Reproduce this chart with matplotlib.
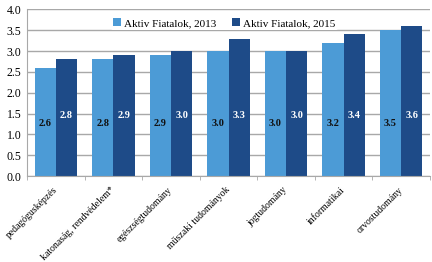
import numpy as np
import matplotlib.pyplot as plt
import matplotlib.transforms as mtransforms

categories = ['pedagógusképzés', 'katonaság, rendvédelem*', 'egészségtudomány',
              'műszaki tudományok', 'jogtudomány', 'informatikai', 'orvostudomány']
vals_2013 = [2.6, 2.8, 2.9, 3.0, 3.0, 3.2, 3.5]
vals_2015 = [2.8, 2.9, 3.0, 3.3, 3.0, 3.4, 3.6]
labels_2013 = ['2.6', '2.8', '2.9', '3.0', '3.0', '3.2', '3.5']
labels_2015 = ['2.8', '2.9', '3.0', '3.3', '3.0', '3.4', '3.6']

plt.rcParams['font.family'] = ['Liberation Serif', 'DejaVu Serif']

fig = plt.figure(figsize=(4.32, 2.62), dpi=100)
ax = fig.add_axes([0.063, 0.328, 0.932, 0.636])

x = np.arange(len(categories))
w = 0.37
light = '#4c9bd6'
dark = '#1e4b88'
ax.bar(x - w / 2, vals_2013, w, color=light, label='Aktiv Fiatalok, 2013', zorder=2)
ax.bar(x + w / 2, vals_2015, w, color=dark, label='Aktiv Fiatalok, 2015', zorder=2)

for i in range(len(categories)):
    ax.text(x[i] - w / 2, 1.25, labels_2013[i], ha='center', va='center',
            fontsize=7.5, fontweight='bold', color='#111111', zorder=3)
    ax.text(x[i] + w / 2, 1.45, labels_2015[i], ha='center', va='center',
            fontsize=7.5, fontweight='bold', color='white', zorder=3)

ax.set_ylim(0, 4.0)
ax.set_yticks(np.arange(0, 4.01, 0.5))
ax.set_yticklabels(['%.1f' % v for v in np.arange(0, 4.01, 0.5)], fontsize=8.5)
ax.yaxis.grid(True, color='#a8a8a8', linewidth=1.0, zorder=0)
ax.tick_params(axis='y', length=0, pad=4)

ax.set_xlim(-0.5, len(categories) - 0.5)
ax.set_xticks(x)
ax.set_xticklabels(categories, rotation=45, ha='right', va='center',
                   rotation_mode='anchor', fontsize=7)
# nudge labels a little to the right, like the original
shift = mtransforms.ScaledTranslation(4 / 72, 0, fig.dpi_scale_trans)
for lbl in ax.get_xticklabels():
    lbl.set_transform(lbl.get_transform() + shift)
ax.set_xticks(np.arange(-0.5, len(categories)), minor=True)
ax.tick_params(axis='x', which='major', length=0, pad=9)
ax.tick_params(axis='x', which='minor', length=3, color='#a8a8a8')

for s in ['top', 'right']:
    ax.spines[s].set_visible(False)
ax.spines['left'].set_color('#a8a8a8')
ax.spines['bottom'].set_color('#a8a8a8')

ax.legend(loc='upper center', bbox_to_anchor=(0.49, 0.995), ncol=2, frameon=True,
          facecolor='white', edgecolor='none', framealpha=1, fontsize=8,
          handlelength=0.7, handleheight=0.7, handletextpad=0.3, columnspacing=1.4,
          borderpad=0.2)

fig.savefig('out.png', dpi=100)
